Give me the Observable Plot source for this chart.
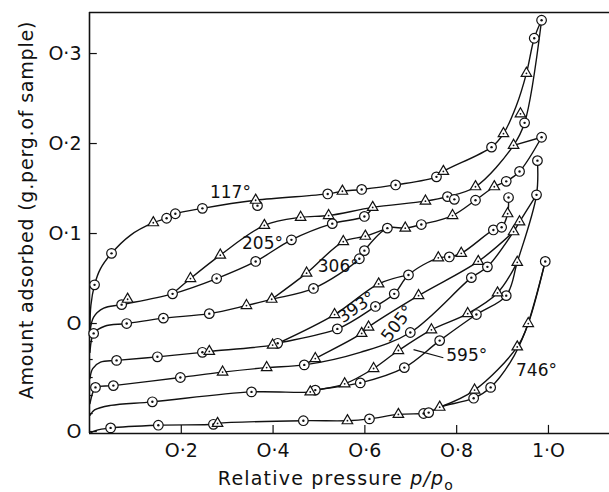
<!DOCTYPE html>
<html><head><meta charset="utf-8">
<script src="https://cdn.jsdelivr.net/npm/d3@7"></script>
<script src="https://cdn.jsdelivr.net/npm/@observablehq/plot@0.6"></script>
<style>body{margin:0;background:#fff}</style>
</head><body><div id="chart"></div>
<script>
// Axis ticks and labels
const xTicks = [0.2, 0.4, 0.6, 0.8, 1.0];
const xTickLabels = ["O·2", "O·4", "O·6", "O·8", "1·O"];
const yTicks = [-0.12, 0, 0.1, 0.2, 0.3];
const yTickLabels = ["O", "O", "O·1", "O·2", "O·3"];
const yMinorTicks = [-0.02, -0.04, -0.06, -0.08, -0.10];
const xDomain = [0, 1.133];
const yDomain = [-0.1222, 0.3456];

// Isotherms: [p/p0, amount (displaced scale), marker] ; o = circle, t = triangle,
// "" = curve only, O/T = marker off the drawn curve
const iso117 = [[0.001,-0.006,""],[0.003,0.020,""],[0.011,0.043,"o"],[0.024,0.061,""],[0.048,0.078,"o"],[0.089,0.098,""],[0.139,0.112,"t"],[0.168,0.117,"o"],[0.187,0.122,"o"],[0.246,0.128,"o"],[0.362,0.137,"t"],[0.366,0.131,"O"],[0.519,0.144,"o"],[0.551,0.147,"t"],[0.593,0.149,"o"],[0.667,0.154,"o"],[0.756,0.163,"o"],[0.771,0.169,"t"],[0.876,0.196,"o"],[0.902,0.211,"t"],[0.930,0.242,""],[0.952,0.278,"t"],[0.969,0.317,"o"],[0.985,0.337,"o"]];
const iso205a = [[0.001,-0.010,""],[0.009,0.007,""],[0.031,0.017,""],[0.070,0.021,"o"],[0.083,0.027,"T"],[0.181,0.033,"o"],[0.277,0.050,"o"],[0.362,0.069,"o"],[0.440,0.093,"o"],[0.529,0.111,"o"],[0.599,0.119,"o"],[0.617,0.129,""]];
const iso205d = [[0.181,0.033,""],[0.220,0.050,"t"],[0.285,0.076,"t"],[0.381,0.109,"t"],[0.460,0.118,"t"],[0.521,0.120,"t"],[0.617,0.129,"t"],[0.732,0.136,"t"],[0.780,0.141,"o"],[0.795,0.138,"O"],[0.841,0.152,"t"],[0.924,0.198,"t"],[0.948,0.223,"o"],[0.939,0.233,"T"],[0.985,0.337,""]];
const iso306a = [[0.001,-0.032,""],[0.004,-0.019,""],[0.009,-0.011,"o"],[0.033,-0.003,""],[0.081,0.000,"o"],[0.161,0.006,"o"],[0.261,0.011,"o"],[0.342,0.020,"t"],[0.397,0.027,"t"],[0.488,0.039,"o"],[0.588,0.072,"o"],[0.599,0.081,"o"],[0.649,0.106,"o"],[0.688,0.106,"t"],[0.723,0.110,"o"],[0.791,0.120,"t"],[0.841,0.137,"o"],[0.882,0.152,"t"],[0.908,0.158,"o"],[0.937,0.169,"o"],[0.985,0.207,"o"]];
const iso306d = [[0.397,0.027,""],[0.473,0.056,"t"],[0.553,0.091,"t"],[0.601,0.097,"t"],[0.649,0.106,""]];
const iso306top = [[0.985,0.207,""],[0.924,0.198,""]];
const iso393a = [[0.001,-0.061,""],[0.007,-0.050,""],[0.024,-0.043,""],[0.059,-0.041,"o"],[0.148,-0.037,"o"],[0.246,-0.032,"o"],[0.261,-0.031,"t"],[0.399,-0.024,"t"],[0.410,-0.022,"o"],[0.540,-0.006,"o"],[0.623,0.019,"o"],[0.664,0.033,"o"],[0.695,0.054,"o"],[0.760,0.073,"t"],[0.784,0.074,"o"],[0.810,0.078,"t"],[0.880,0.104,"o"],[0.898,0.107,"o"],[0.911,0.122,"t"],[0.913,0.140,"o"]];
const iso393d = [[0.410,-0.022,""],[0.534,0.010,"t"],[0.630,0.044,"t"],[0.695,0.054,""]];
const iso505a = [[0.001,-0.089,""],[0.007,-0.077,""],[0.013,-0.071,"o"],[0.052,-0.069,"o"],[0.198,-0.060,"o"],[0.290,-0.054,"t"],[0.386,-0.049,"t"],[0.468,-0.046,"o"],[0.590,-0.032,""],[0.699,-0.010,"o"],[0.832,0.051,"o"],[0.867,0.063,"o"],[0.924,0.102,"t"],[0.937,0.113,"t"],[0.974,0.143,""]];
const iso505d = [[0.468,-0.046,""],[0.492,-0.039,"t"],[0.593,-0.011,"t"],[0.608,-0.004,"t"],[0.717,0.031,"t"],[0.847,0.069,"t"],[0.924,0.102,""]];
const iso595a = [[0.001,-0.102,""],[0.011,-0.096,""],[0.046,-0.091,""],[0.137,-0.087,"o"],[0.353,-0.076,"o"],[0.481,-0.076,"t"],[0.492,-0.074,"o"],[0.590,-0.066,"o"],[0.686,-0.049,"o"],[0.763,-0.019,"o"],[0.843,0.010,"o"],[0.908,0.031,"o"],[0.932,0.068,"t"],[0.974,0.143,"o"],[0.976,0.181,"o"]];
const iso595d = [[0.492,-0.074,""],[0.556,-0.067,"t"],[0.619,-0.050,"t"],[0.673,-0.030,"t"],[0.745,-0.007,"t"],[0.824,0.011,"t"],[0.889,0.034,"t"],[0.932,0.068,""]];
const iso746a = [[0.001,-0.122,""],[0.013,-0.119,""],[0.046,-0.116,"o"],[0.150,-0.113,"o"],[0.270,-0.112,"o"],[0.279,-0.111,"t"],[0.466,-0.108,"o"],[0.562,-0.108,"t"],[0.610,-0.106,"o"],[0.673,-0.101,"t"],[0.728,-0.100,"o"],[0.739,-0.099,"o"],[0.763,-0.093,"t"],[0.837,-0.083,"o"],[0.874,-0.071,"o"],[0.917,-0.043,""],[0.950,-0.008,""],[0.993,0.069,"o"]];
const iso746d = [[0.763,-0.093,""],[0.839,-0.074,"t"],[0.932,-0.026,"t"],[0.956,0.000,"t"],[0.993,0.069,""]];

const curveLabels = [
  {t:"117°", x:0.307, y:0.146, r:0},
  {t:"205°", x:0.377, y:0.089, r:0},
  {t:"306°", x:0.542, y:0.063, r:0},
  {t:"393°", x:0.582, y:0.018, r:-35},
  {t:"505°", x:0.671, y:0.000, r:-52},
  {t:"595°", x:0.822, y:-0.036, r:0},
  {t:"746°", x:0.974, y:-0.052, r:0}
];
const leader = [{x1:0.706, y1:-0.029, x2:0.771, y2:-0.038}];

const series = [["117",iso117],["205a",iso205a],["205d",iso205d],["306a",iso306a],["306d",iso306d],["306t",iso306top],
  ["393a",iso393a],["393d",iso393d],["505a",iso505a],["505d",iso505d],["595a",iso595a],["595d",iso595d],["746a",iso746a],["746d",iso746d]];
const rows = [];
series.forEach(([id, arr]) => arr.forEach(([x, y, m]) => rows.push({id, x, y, m})));
const onLine = rows.filter(d => d.m === "" || d.m === "o" || d.m === "t");
const circ = rows.filter(d => d.m.toLowerCase() === "o");
const tri = rows.filter(d => d.m.toLowerCase() === "t");
const xLab = new Map(xTicks.map((d, i) => [d, xTickLabels[i]]));
const yLab = new Map(yTicks.map((d, i) => [d, yTickLabels[i]]));
const ink = "#111";

const svg = Plot.plot({
  width: 609, height: 492,
  marginLeft: 89, marginRight: 0, marginTop: 12, marginBottom: 59,
  style: {fontFamily: "DejaVu Sans", background: "white", color: ink},
  x: {domain: xDomain},
  y: {domain: yDomain},
  marks: [
    Plot.ruleX([xDomain[0]], {stroke: ink, strokeWidth: 1.6}),
    Plot.ruleY(yDomain, {stroke: ink, strokeWidth: 1.6}),
    Plot.ruleX(xTicks, {x: d => d, y1: yDomain[0], y2: yDomain[0] + 0.009, stroke: ink, strokeWidth: 1.2}),
    Plot.ruleY(yTicks, {y: d => d, x1: 0, x2: 0.017, stroke: ink, strokeWidth: 1.2}),
    Plot.ruleY(yMinorTicks, {y: d => d, x1: 0, x2: 0.008, stroke: ink, strokeWidth: 1.2}),
    Plot.axisX(xTicks, {tickSize: 0, tickPadding: 10, fontSize: 19, tickFormat: d => xLab.get(d), label: null}),
    Plot.axisY(yTicks, {tickSize: 0, tickPadding: 8, fontSize: 19, tickFormat: d => yLab.get(d), label: null}),
    Plot.line(onLine, {x: "x", y: "y", z: "id", curve: "catmull-rom", stroke: ink, strokeWidth: 1.4}),
    Plot.dot(circ, {x: "x", y: "y", r: 4.8, fill: "white", stroke: ink, strokeWidth: 1.2}),
    Plot.dot(circ, {x: "x", y: "y", r: 1.2, fill: ink}),
    Plot.dot(tri, {x: "x", y: "y", symbol: "triangle", r: 3.9, fill: "white", stroke: ink, strokeWidth: 1.2}),
    Plot.dot(tri, {x: "x", y: "y", r: 0.9, fill: ink}),
    Plot.link(leader, {x1: "x1", y1: "y1", x2: "x2", y2: "y2", stroke: ink, strokeWidth: 1.2}),
    Plot.text(curveLabels, {x: "x", y: "y", text: "t", rotate: "r", fontSize: 17, textAnchor: "middle", lineAnchor: "middle", fill: ink})
  ]
});

const s = d3.select(svg);
s.append("text")
  .attr("transform", "translate(33,210) rotate(-90)")
  .attr("text-anchor", "middle")
  .attr("fill", ink)
  .style("font-family", "DejaVu Sans").style("font-size", "19px").style("letter-spacing", "0.8px")
  .text("Amount adsorbed (g.perg.of sample)");
const xt = s.append("text")
  .attr("x", 336).attr("y", 485)
  .attr("text-anchor", "middle")
  .attr("fill", ink)
  .style("font-family", "DejaVu Sans").style("font-size", "19px").style("letter-spacing", "1.2px");
xt.append("tspan").text("Relative pressure ");
xt.append("tspan").style("font-style", "italic").text("p/p");
xt.append("tspan").attr("dy", 5).style("font-size", "14px").text("o");

document.getElementById("chart").appendChild(svg);
</script>
</body></html>
